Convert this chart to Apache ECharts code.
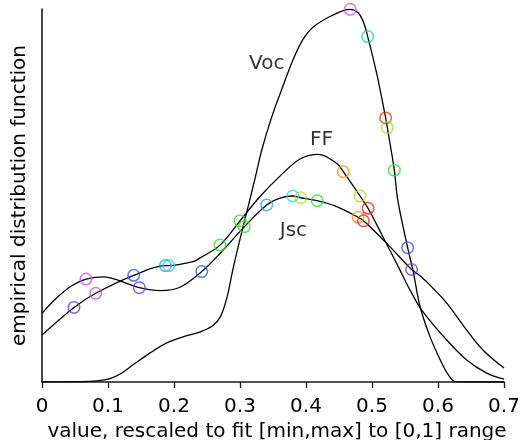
<!DOCTYPE html>
<html><head><meta charset="utf-8">
<script src="https://cdn.jsdelivr.net/npm/echarts@6/dist/echarts.min.js"></script>
<style>html,body{margin:0;padding:0;background:#fff}#c{width:521px;height:440px}</style>
</head><body><div id="c"></div>
<script>
// x axis ticks
const xTicks = [0, 0.1, 0.2, 0.3, 0.4, 0.5, 0.6, 0.7];

// Voc curve
const vocX = [0, 0.05, 0.083, 0.103, 0.121, 0.138, 0.164, 0.189, 0.217, 0.239, 0.258, 0.270, 0.280, 0.289, 0.300, 0.311, 0.323, 0.333, 0.348, 0.364, 0.379, 0.395, 0.411, 0.441, 0.467, 0.479, 0.487, 0.4935, 0.507, 0.5207, 0.5232, 0.5338, 0.539, 0.554, 0.562, 0.573, 0.588, 0.6056, 0.615, 0.626, 0.648, 0.7];
const vocY = [0, 0.001, 0.003, 0.009, 0.024, 0.046, 0.078, 0.105, 0.123, 0.134, 0.150, 0.174, 0.225, 0.300, 0.383, 0.461, 0.547, 0.622, 0.710, 0.788, 0.858, 0.917, 0.952, 0.984, 0.999, 0.990, 0.965, 0.926, 0.828, 0.708, 0.682, 0.568, 0.488, 0.360, 0.300, 0.201, 0.121, 0.051, 0.021, 0.001, 0, 0];

// Jsc curve
const jscX = [0, 0.020, 0.045, 0.0667, 0.094, 0.118, 0.1474, 0.179, 0.209, 0.242, 0.270, 0.3065, 0.3405, 0.3606, 0.3798, 0.392, 0.417, 0.444, 0.479, 0.487, 0.497, 0.527, 0.560, 0.575, 0.592, 0.613, 0.6435, 0.668, 0.7];
const jscY = [0.184, 0.222, 0.258, 0.276, 0.282, 0.271, 0.253, 0.245, 0.254, 0.296, 0.345, 0.416, 0.4745, 0.493, 0.4987, 0.494, 0.486, 0.472, 0.4416, 0.432, 0.416, 0.363, 0.3016, 0.2815, 0.252, 0.212, 0.139, 0.086, 0.0375];

// FF curve
const ffX = [0, 0.0485, 0.0814, 0.139, 0.187, 0.192, 0.229, 0.239, 0.2697, 0.300, 0.3303, 0.3606, 0.3909, 0.4186, 0.4465, 0.4565, 0.4818, 0.494, 0.5167, 0.5424, 0.5576, 0.5753, 0.6132, 0.6435, 0.6738, 0.7];
const ffY = [0.126, 0.200, 0.238, 0.286, 0.312, 0.312, 0.3225, 0.332, 0.367, 0.432, 0.4973, 0.552, 0.598, 0.6105, 0.5863, 0.5638, 0.4987, 0.4657, 0.3887, 0.300, 0.2466, 0.193, 0.1126, 0.059, 0.024, 0.008];

// circle markers on the curves: x, y, colour key
const vocMarkX = [0.467, 0.4935, 0.5207, 0.5232, 0.5338, 0.554];
const vocMarkY = [0.999, 0.926, 0.708, 0.682, 0.568, 0.360];
const vocMarkC = ['magenta', 'spring', 'redorange', 'yellowgreen', 'green', 'blue'];

const jscMarkX = [0.0667, 0.1474, 0.242, 0.3065, 0.3405, 0.3798, 0.392, 0.417, 0.479, 0.487, 0.560];
const jscMarkY = [0.276, 0.253, 0.296, 0.416, 0.4745, 0.4987, 0.494, 0.486, 0.4416, 0.432, 0.3016];
const jscMarkC = ['magenta', 'purple', 'blue', 'green', 'skyblue', 'cyan', 'yellowgreen', 'green', 'orange', 'red', 'purple'];

const ffMarkX = [0.0485, 0.0814, 0.139, 0.187, 0.192, 0.2697, 0.300, 0.4565, 0.4818, 0.494];
const ffMarkY = [0.200, 0.238, 0.286, 0.312, 0.312, 0.367, 0.432, 0.5638, 0.4987, 0.4657];
const ffMarkC = ['purple', 'magenta', 'blue', 'skyblue', 'cyan', 'green', 'green', 'orange', 'yellowgreen', 'red'];

// curve name labels
const curveNames = ['Voc', 'FF', 'Jsc'];
const curveNameX = [0.3405, 0.4235, 0.381];
const curveNameY = [0.853, 0.648, 0.405];

const palette = {
  magenta: '#d24ff0', purple: '#7333f5', blue: '#2a58f5', skyblue: '#2a9ff5',
  cyan: '#1ed8e8', spring: '#16d884', green: '#2ede2e', yellowgreen: '#9ce81e',
  orange: '#ff920a', red: '#ff1e1e', redorange: '#ff340a'
};

const FONT = 'DejaVu Sans';
function pairs(xs, ys) { return xs.map((x, i) => [x, ys[i]]); }
function curve(name, xs, ys) {
  return {
    type: 'line', name: name, data: pairs(xs, ys), smooth: 0.35,
    showSymbol: false, silent: true, z: 2,
    lineStyle: { color: '#000', width: 1.3 }
  };
}
function marks(xs, ys, cs) {
  return {
    type: 'scatter', silent: true, z: 3,
    symbol: 'circle', symbolSize: 11.5,
    data: xs.map((x, i) => ({
      value: [x, ys[i]],
      itemStyle: { color: 'rgba(0,0,0,0)', borderColor: palette[cs[i]], borderWidth: 1.5 }
    }))
  };
}

const chart = echarts.init(document.getElementById('c'), null, { renderer: 'canvas' });
chart.setOption({
  animation: false,
  backgroundColor: '#fff',
  grid: { left: 42, right: 17, top: 9, bottom: 58, containLabel: false, outerBoundsMode: 'none' },
  xAxis: {
    type: 'value', min: 0, max: 0.7, interval: 0.1,
    axisLine: { show: true, onZero: false, lineStyle: { color: '#1a1a1a', width: 1.6 } },
    axisTick: { show: true, inside: false, length: 6, lineStyle: { color: '#1a1a1a', width: 1.3 } },
    axisLabel: { color: '#000', fontFamily: FONT, fontSize: 20, margin: 15,
      formatter: v => { const t = xTicks.find(k => Math.abs(k - v) < 1e-9); return t === undefined ? '' : String(t); } },
    splitLine: { show: false },
    name: 'value, rescaled to fit [min,max] to [0,1] range',
    nameLocation: 'middle', nameGap: 37,
    nameTextStyle: { color: '#000', fontFamily: FONT, fontSize: 20, padding: [0, 0, 0, 8] }
  },
  yAxis: {
    type: 'value', min: 0, max: 1,
    axisLine: { show: true, lineStyle: { color: '#1a1a1a', width: 1.6 } },
    axisTick: { show: false }, axisLabel: { show: false }, splitLine: { show: false },
    name: 'empirical distribution function',
    nameLocation: 'middle', nameGap: 12,
    nameTextStyle: { color: '#000', fontFamily: FONT, fontSize: 20 }
  },
  series: [
    curve('Voc', vocX, vocY),
    curve('Jsc', jscX, jscY),
    curve('FF', ffX, ffY),
    marks(vocMarkX, vocMarkY, vocMarkC),
    marks(jscMarkX, jscMarkY, jscMarkC),
    marks(ffMarkX, ffMarkY, ffMarkC),
    {
      type: 'scatter', silent: true, symbolSize: 0, z: 4,
      data: curveNames.map((n, i) => ({ value: [curveNameX[i], curveNameY[i]], name: n })),
      label: { show: true, position: 'inside', formatter: p => p.name,
        color: '#000', fontFamily: FONT, fontSize: 20 }
    }
  ]
});
</script>
</body></html>
